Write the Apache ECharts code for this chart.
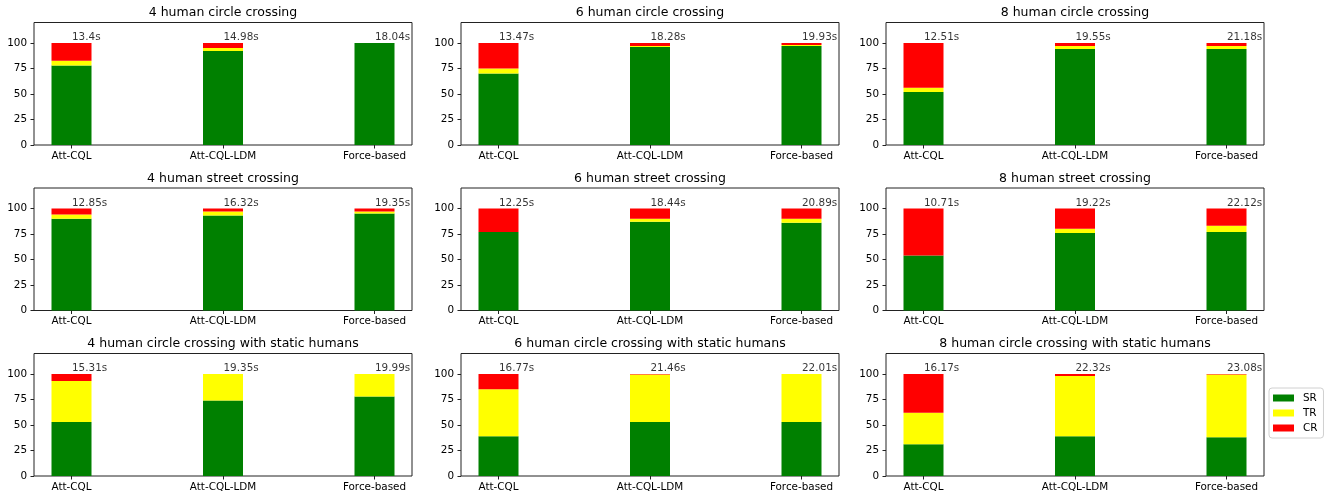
<!DOCTYPE html>
<html>
<head>
<meta charset="utf-8">
<script src="https://cdn.jsdelivr.net/npm/echarts@6/dist/echarts.min.js"></script>
<style>
html,body{margin:0;padding:0;background:#fff;}
#chart{width:1338px;height:500px;}
</style>
</head>
<body>
<div id="chart"></div>
<script>
// ---- data ----
const categories = ['Att-CQL', 'Att-CQL-LDM', 'Force-based'];
const titles = [
  '4 human circle crossing', '6 human circle crossing', '8 human circle crossing',
  '4 human street crossing', '6 human street crossing', '8 human street crossing',
  '4 human circle crossing with static humans', '6 human circle crossing with static humans', '8 human circle crossing with static humans'
];
const SR = [
  [78, 92, 100], [70, 96, 97], [52, 94, 94],
  [90, 93, 95], [77, 87, 86], [54, 76, 77],
  [53, 74, 78], [39, 53, 53], [31, 39, 38]
];
const TR = [
  [4.5, 3, 0], [5, 1, 1], [4, 3, 3],
  [4, 4, 2], [0, 3, 4], [0, 4, 6],
  [40, 26, 22], [46, 46.5, 47], [31, 59, 61.5]
];
const CR = [
  [17.5, 5, 0], [25, 3, 2], [44, 3, 3],
  [6, 3, 3], [23, 10, 10], [46, 20, 17],
  [7, 0, 0], [15, 0.5, 0], [38, 2, 0.5]
];
const times = [
  ['13.4s', '14.98s', '18.04s'], ['13.47s', '18.28s', '19.93s'], ['12.51s', '19.55s', '21.18s'],
  ['12.85s', '16.32s', '19.35s'], ['12.25s', '18.44s', '20.89s'], ['10.71s', '19.22s', '22.12s'],
  ['15.31s', '19.35s', '19.99s'], ['16.77s', '21.46s', '22.01s'], ['16.17s', '22.32s', '23.08s']
];
const yTicks = [0, 25, 50, 75, 100];
const seriesNames = ['SR', 'TR', 'CR'];
const seriesColors = ['#008000', '#ffff00', '#ff0000'];

// ---- layout ----
const colLeft = [34, 461, 886];
const rowTop = [22.5, 188, 353.5];
const gw = 378, gh = 122.5;
const inset = 37.5; // distance from frame edge to first/last bar centre
const font = 'DejaVu Sans';
const ink = '#000';
const fs = 10.4, tfs = 12.5;

const grids = [], xAxes = [], yAxes = [], series = [], titleArr = [];
for (let i = 0; i < 9; i++) {
  const r = Math.floor(i / 3), c = i % 3;
  const fg = 2 * i, bg = 2 * i + 1;
  // frame grid (spines + y ticks)
  grids.push({left: colLeft[c], top: rowTop[r], width: gw, height: gh,
    show: true, borderColor: '#222', borderWidth: 1, backgroundColor: 'transparent'});
  // bar grid (category positions)
  grids.push({left: colLeft[c] + inset, top: rowTop[r], width: gw - 2 * inset, height: gh, show: false});

  xAxes.push({type: 'value', gridIndex: fg, min: 0, max: 1, show: false});
  yAxes.push({type: 'value', gridIndex: fg, min: 0, max: 120,
    splitLine: {show: false}, axisLine: {show: false, onZero: false},
    axisTick: {show: true, inside: false, length: 3.5, customValues: yTicks, lineStyle: {color: '#222'}},
    axisLabel: {customValues: yTicks, margin: 7, fontFamily: font, fontSize: fs, color: ink}});

  xAxes.push({type: 'category', gridIndex: bg, data: categories, boundaryGap: false,
    axisLine: {show: false, onZero: false},
    axisTick: {show: true, inside: false, length: 3.5, lineStyle: {color: '#222'}},
    axisLabel: {margin: 6, fontFamily: font, fontSize: fs, color: ink, interval: 0}});
  yAxes.push({type: 'value', gridIndex: bg, min: 0, max: 120, show: false});

  titleArr.push({text: titles[i], left: colLeft[c] + gw / 2, top: rowTop[r] - 17, textAlign: 'center',
    padding: 0, textStyle: {fontFamily: font, fontSize: tfs, fontWeight: 'normal', color: ink, lineHeight: 15}});

  const sets = [SR[i], TR[i], CR[i]];
  for (let s = 0; s < 3; s++) {
    series.push({type: 'bar', name: seriesNames[s], xAxisIndex: bg, yAxisIndex: bg, stack: 'p' + i,
      barWidth: 40, clip: false, itemStyle: {color: seriesColors[s]}, silent: true,
      data: sets[s]});
  }
  series.push({type: 'scatter', name: 'time' + i, xAxisIndex: bg, yAxisIndex: bg, symbolSize: 1,
    itemStyle: {color: 'rgba(0,0,0,0)'}, silent: true, clip: false,
    data: times[i].map((t, k) => SR[i][k] + TR[i][k] + CR[i][k]),
    label: {show: true, position: [1, 0], align: 'left', verticalAlign: 'bottom',
      fontFamily: font, fontSize: fs, color: ink, formatter: p => times[i][p.dataIndex]}});
}

const chart = echarts.init(document.getElementById('chart'), null, {renderer: 'canvas'});
chart.setOption({
  animation: false,
  backgroundColor: '#fff',
  title: titleArr,
  grid: grids,
  xAxis: xAxes,
  yAxis: yAxes,
  legend: {data: seriesNames, orient: 'vertical', left: 1269, top: 388,
    itemWidth: 21, itemHeight: 7, itemGap: 5, icon: 'rect',
    padding: [5, 6, 5, 4], borderColor: '#d0d0d0', borderWidth: 1, borderRadius: 3,
    backgroundColor: '#fff',
    textStyle: {fontFamily: font, fontSize: fs, color: ink, padding: [0, 0, 0, 4]}},
  series: series
});
</script>
</body>
</html>
